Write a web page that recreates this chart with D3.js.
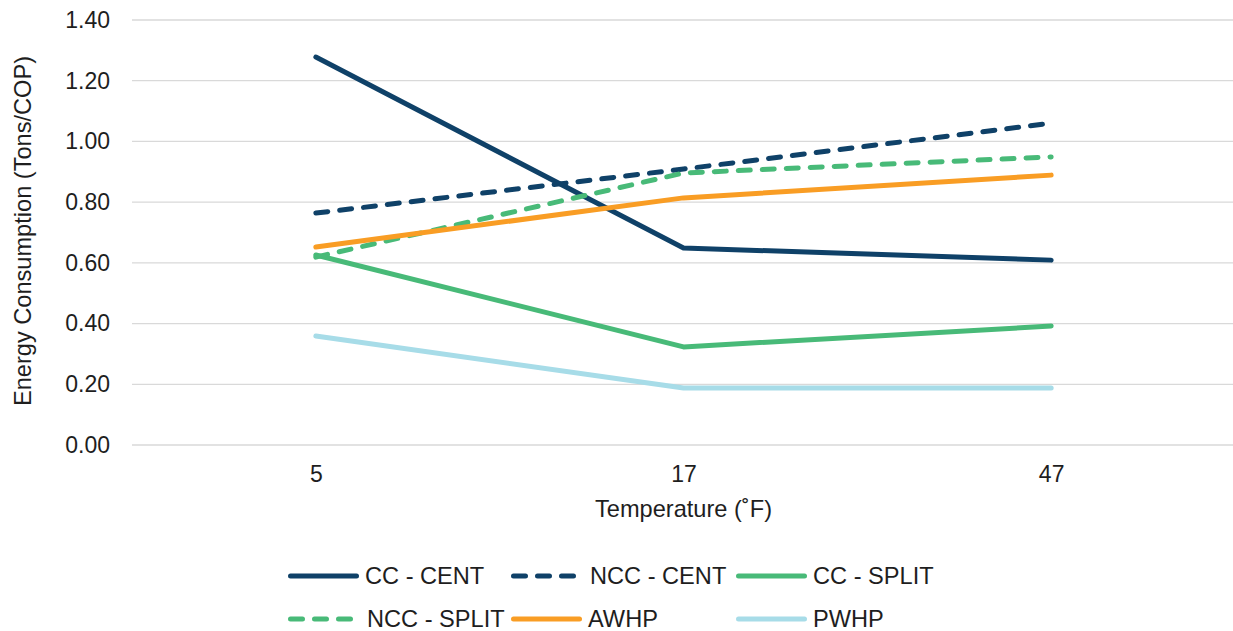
<!DOCTYPE html>
<html>
<head>
<meta charset="utf-8">
<script src="https://cdn.jsdelivr.net/npm/d3@7"></script>
<style>
  html, body { margin: 0; padding: 0; background: #fff; }
  svg { display: block; font-family: "Liberation Sans", Arial, sans-serif; }
</style>
</head>
<body>
<svg id="chart" width="1233" height="631"></svg>
<script>
// Temperature categories (°F)
const temperatures = ["5", "17", "47"];

// Energy consumption (Tons/COP) per system type
const ccCent   = [1.278, 0.649, 0.609];
const nccCent  = [0.764, 0.909, 1.060];
const ccSplit  = [0.626, 0.323, 0.392];
const nccSplit = [0.619, 0.896, 0.949];
const awhp     = [0.652, 0.814, 0.889];
const pwhp     = [0.359, 0.188, 0.188];

const yTicks = [0, 0.2, 0.4, 0.6, 0.8, 1.0, 1.2, 1.4];

const series = [
  { name: "CC - CENT",   values: ccCent,   color: "#0f4168", dashed: false },
  { name: "NCC - CENT",  values: nccCent,  color: "#0f4168", dashed: true  },
  { name: "CC - SPLIT",  values: ccSplit,  color: "#48ba78", dashed: false },
  { name: "NCC - SPLIT", values: nccSplit, color: "#48ba78", dashed: true  },
  { name: "AWHP",        values: awhp,     color: "#f99d24", dashed: false },
  { name: "PWHP",        values: pwhp,     color: "#a7dce8", dashed: false }
];

const FONT = 23;
const LABEL_FONT = 23.6;
const TEXT = "#1e1e1e";

const svg = d3.select("#chart");
const plot = { left: 132, right: 1235, top: 20, bottom: 445 };

const x = d3.scalePoint()
  .domain(temperatures)
  .range([plot.left, plot.right])
  .padding(0.5);

const y = d3.scaleLinear()
  .domain([0, 1.4])
  .range([plot.bottom, plot.top]);

// Horizontal gridlines
svg.append("g")
  .selectAll("line")
  .data(yTicks)
  .join("line")
  .attr("x1", plot.left)
  .attr("x2", plot.right)
  .attr("y1", d => y(d))
  .attr("y2", d => y(d))
  .attr("stroke", "#d9d9d9")
  .attr("stroke-width", 1.3);

// Y axis tick labels
const yAxis = d3.axisLeft(y)
  .tickValues(yTicks)
  .tickFormat(d3.format(".2f"))
  .tickSize(0)
  .tickPadding(22);

svg.append("g")
  .attr("transform", `translate(${plot.left},0)`)
  .call(yAxis)
  .call(g => g.select(".domain").remove())
  .call(g => g.selectAll("text")
    .attr("font-size", FONT)
    .attr("fill", TEXT)
    .attr("font-family", "'Liberation Sans', Arial, sans-serif"));

// X axis tick labels
const xAxis = d3.axisBottom(x).tickSize(0).tickPadding(21);
svg.append("g")
  .attr("transform", `translate(0,${plot.bottom})`)
  .call(xAxis)
  .call(g => g.select(".domain").remove())
  .call(g => g.selectAll("text")
    .attr("font-size", FONT)
    .attr("fill", TEXT)
    .attr("font-family", "'Liberation Sans', Arial, sans-serif"));

// Axis titles
svg.append("text")
  .attr("x", x("17"))
  .attr("y", 517)
  .attr("text-anchor", "middle")
  .attr("font-size", LABEL_FONT)
  .attr("fill", TEXT)
  .text("Temperature (˚F)");

svg.append("text")
  .attr("transform", `translate(31,231) rotate(-90)`)
  .attr("text-anchor", "middle")
  .attr("font-size", LABEL_FONT)
  .attr("fill", TEXT)
  .text("Energy Consumption (Tons/COP)");

// Series lines
const line = d3.line()
  .x((d, i) => x(temperatures[i]))
  .y(d => y(d));

svg.append("g")
  .selectAll("path")
  .data(series)
  .join("path")
  .attr("d", d => line(d.values))
  .attr("fill", "none")
  .attr("stroke", d => d.color)
  .attr("stroke-width", 5)
  .attr("stroke-linecap", "round")
  .attr("stroke-linejoin", "round")
  .attr("stroke-dasharray", d => d.dashed ? "12,12" : null);

// Legend (two rows of three)
const legendCols = [288, 511, 736];
const legendRows = [576, 619];
const legend = svg.append("g")
  .selectAll("g")
  .data(series)
  .join("g")
  .attr("transform", (d, i) => `translate(${legendCols[i % 3]},${legendRows[Math.floor(i / 3)]})`);

legend.append("line")
  .attr("x1", 2.5)
  .attr("x2", d => d.dashed ? 62.5 : 68.5)
  .attr("y1", 0)
  .attr("y2", 0)
  .attr("stroke", d => d.color)
  .attr("stroke-width", 5)
  .attr("stroke-linecap", "round")
  .attr("stroke-dasharray", d => d.dashed ? "12,12" : null);

legend.append("text")
  .attr("x", (d, i) => d.dashed ? 79 : 77)
  .attr("y", 0)
  .attr("dy", "0.35em")
  .attr("font-size", LABEL_FONT)
  .attr("fill", TEXT)
  .text(d => d.name);
</script>
</body>
</html>
